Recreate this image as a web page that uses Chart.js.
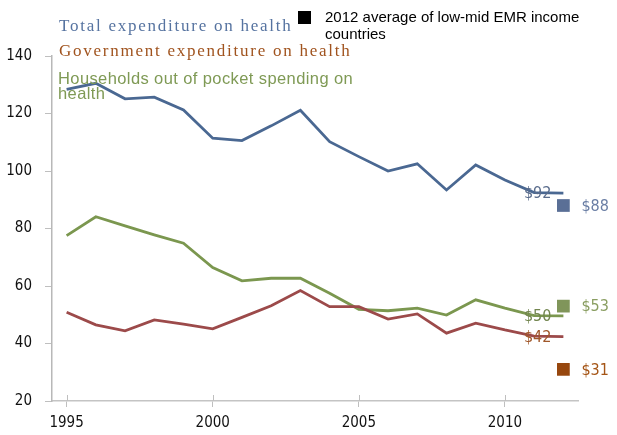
<!DOCTYPE html>
<html lang="en">
<head>
<meta charset="UTF-8">
<title>Health expenditure</title>
<script src="https://cdn.jsdelivr.net/npm/chart.js"></script>
<style>
  body { margin: 0; background: #fff; }
  #wrap { position: relative; width: 617px; height: 435px; }
  .lbl { position: absolute; white-space: nowrap; }
  .serif { font-family: "Liberation Serif", "DejaVu Serif", serif; font-size: 17px; letter-spacing: 1.75px; line-height: 20px; }
  .sans { font-family: "Liberation Sans", Arial, sans-serif; }
</style>
</head>
<body>
<div id="wrap">
  <canvas id="healthChart" width="617" height="435"></canvas>
  <!-- series captions -->
  <div class="lbl serif" style="left:59px; top:16px; color:#5673a0;">Total expenditure on health</div>
  <div class="lbl serif" style="left:59px; top:41px; color:#a0531e;">Government expenditure on health</div>
  <div class="lbl sans" style="left:58px; top:71px; color:#7f9a55; font-size:16.5px; letter-spacing:0.4px; line-height:15px;">Households out of pocket spending on<br>health</div>
  <!-- marker key -->
  <div class="lbl" style="left:298px; top:11px; width:13px; height:13px; background:#000;"></div>
  <div class="lbl sans" style="left:325px; top:8px; color:#000; font-size:15px; line-height:17px;">2012 average of low-mid EMR income<br>countries</div>
</div>

<script>
  // years on the x axis
  const years = ['1995','1996','1997','1998','1999','2000','2001','2002','2003',
                 '2004','2005','2006','2007','2008','2009','2010','2011','2012'];

  // per capita spending
  const totalSpend = [128.4, 130.5, 125.1, 125.7, 121.2, 111.4, 110.6, 115.7, 121.1,
                      110.2, 105.0, 100.0, 102.5, 93.4, 102.1, 96.9, 92.5, 92.3];
  const govSpend = [50.9, 46.5, 44.4, 48.2, 46.7, 45.1, 49.1, 53.1, 58.4,
                    52.8, 52.8, 48.5, 50.3, 43.6, 47.1, 44.7, 42.6, 42.4];
  const oopSpend = [77.5, 84.1, 80.9, 77.8, 74.9, 66.4, 61.8, 62.7, 62.7,
                    57.5, 51.9, 51.4, 52.3, 49.9, 55.2, 52.3, 49.7, 49.6];

  // 2012 averages for low-mid EMR income countries
  const avgTotal = 88;
  const avgGov = 31;
  const avgOop = 53;

  const yTicks = [20, 40, 60, 80, 100, 120, 140];

  const tickFont = { family: '"DejaVu Sans Condensed", "DejaVu Sans", sans-serif', size: 15 };

  function lastOnly(v) {
    return years.map((y, i) => i === years.length - 1 ? v : null);
  }

  function lineSet(data, color, labelColor, endText) {
    return {
      data: data, borderColor: color, borderWidth: 2.8, pointRadius: 0,
      tension: 0, fill: false, endLabel: endText, endColor: labelColor, endSide: 'left'
    };
  }

  function avgSet(v, color, labelColor) {
    return {
      data: lastOnly(v), showLine: false, pointStyle: 'rect', pointRadius: 9,
      pointBackgroundColor: color, pointBorderWidth: 0,
      endLabel: '$' + v, endColor: labelColor, endSide: 'right'
    };
  }

  // $ labels next to the 2012 points
  const endLabels = {
    id: 'endLabels',
    afterDatasetsDraw(chart) {
      const ctx = chart.ctx;
      ctx.save();
      ctx.font = '16px "DejaVu Sans Condensed", "DejaVu Sans", sans-serif';
      ctx.textBaseline = 'middle';
      chart.data.datasets.forEach((ds, i) => {
        const pt = chart.getDatasetMeta(i).data[years.length - 1];
        ctx.fillStyle = ds.endColor;
        if (ds.endSide === 'left') {
          ctx.textAlign = 'right';
          ctx.fillText(ds.endLabel, pt.x - 12, pt.y + 1);
        } else {
          ctx.textAlign = 'left';
          ctx.fillText(ds.endLabel, pt.x + 18, pt.y + 1);
        }
      });
      ctx.restore();
    }
  };

  // x tick marks cross the axis line
  const crossTicks = {
    id: 'crossTicks',
    afterDraw(chart) {
      const xs = chart.scales.x, ctx = chart.ctx;
      ctx.save();
      ctx.strokeStyle = '#bfbfbf';
      ctx.lineWidth = 1;
      years.forEach((y, i) => {
        if (+y % 5 !== 0) return;
        const px = Math.round(xs.getPixelForTick(i)) + 0.5;
        ctx.beginPath();
        ctx.moveTo(px, xs.top - 6);
        ctx.lineTo(px, xs.top);
        ctx.stroke();
      });
      ctx.restore();
    }
  };

  new Chart(document.getElementById('healthChart'), {
    type: 'line',
    data: {
      labels: years,
      datasets: [
        lineSet(totalSpend, '#4a6892', '#5a6c8c', '$' + Math.round(totalSpend[17])),
        lineSet(govSpend, '#9c4a4a', '#a0572a', '$' + Math.round(govSpend[17])),
        lineSet(oopSpend, '#7b974f', '#72854f', '$' + Math.round(oopSpend[17])),
        avgSet(avgTotal, '#5a6f96', '#6a7ea4'),
        avgSet(avgOop, '#80955a', '#8a9e62'),
        avgSet(avgGov, '#97470e', '#a55516')
      ]
    },
    options: {
      responsive: false,
      animation: false,
      devicePixelRatio: 1,
      layout: { padding: { left: 0, top: 56, right: 39, bottom: 0 } },
      plugins: { legend: { display: false }, tooltip: { enabled: false } },
      scales: {
        x: {
          offset: true,
          afterFit: s => { s.height = 34; },
          grid: {
            drawOnChartArea: false, tickLength: 6,
            color: c => (c.tick && +years[c.index] % 5 === 0) ? '#bfbfbf' : 'rgba(0,0,0,0)'
          },
          border: { color: '#c4c4c4', width: 1.5 },
          ticks: {
            autoSkip: false, maxRotation: 0, padding: 7, color: '#111', font: tickFont,
            callback: (v, i) => +years[i] % 5 === 0 ? years[i] : ''
          }
        },
        y: {
          min: yTicks[0], max: yTicks[yTicks.length - 1],
          afterFit: s => { s.width = 52; },
          afterBuildTicks: s => { s.ticks = yTicks.map(v => ({ value: v })); },
          grid: { drawOnChartArea: false, tickLength: 7, color: '#bfbfbf' },
          border: { color: '#b8b8b8', width: 1.5 },
          ticks: { padding: 13, color: '#111', font: tickFont }
        }
      }
    },
    plugins: [endLabels, crossTicks]
  });
</script>
</body>
</html>
